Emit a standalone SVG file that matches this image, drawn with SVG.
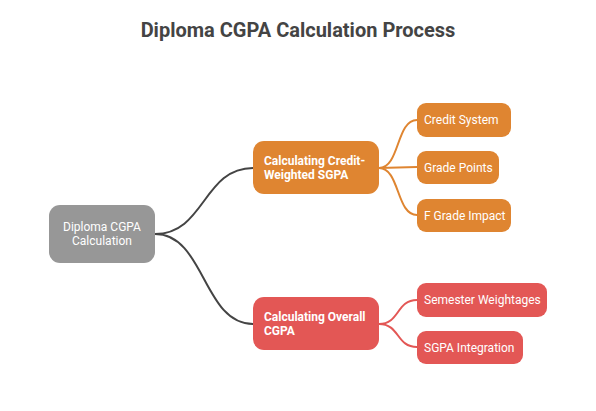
<svg xmlns="http://www.w3.org/2000/svg" width="596" height="411" viewBox="0 0 596 411">
<style>
text{font-family:Roboto,"Liberation Sans",sans-serif;fill:#fff;}
.t{font-size:20px;font-weight:bold;fill:#444;}
.r{font-size:12px;}
.m{font-size:12px;font-weight:bold;}
.c{font-size:12px;}
.or{fill:#DF8531;}
.rd{fill:#E35755;}
.gr{fill:#979797;}
.lk{fill:none;stroke-width:2;}
</style>
<rect width="596" height="411" fill="#fff"/>
<text class="t" x="298" y="37" text-anchor="middle">Diploma CGPA Calculation Process</text>
<g id="connectors">
<path class="lk" stroke="#444" d="M155,234 C205,234 203,168 253,168"/>
<path class="lk" stroke="#444" d="M155,234 C205,234 203,324 253,324"/>
<path class="lk" stroke="#DF8531" d="M379,168 C400,168 396,120 417,120"/>
<path class="lk" stroke="#DF8531" d="M379,168 L417,167"/>
<path class="lk" stroke="#DF8531" d="M379,168 C400,168 396,215 417,215"/>
<path class="lk" stroke="#E35755" d="M379,324 C400,324 396,300 417,300"/>
<path class="lk" stroke="#E35755" d="M379,324 C400,324 396,347 417,347"/>
</g>
<g id="root">
<rect class="gr" x="49" y="205" width="106" height="58" rx="11"/>
<text class="r" x="102" y="231" text-anchor="middle">Diploma CGPA</text>
<text class="r" x="102" y="245" text-anchor="middle">Calculation</text>
</g>
<g id="sgpa">
<rect class="or" x="253" y="141" width="126" height="53" rx="11"/>
<text class="m" x="264" y="165">Calculating Credit-</text>
<text class="m" x="264" y="179">Weighted SGPA</text>
</g>
<g id="cgpa">
<rect class="rd" x="253" y="297" width="126" height="53" rx="11"/>
<text class="m" x="264" y="321">Calculating Overall</text>
<text class="m" x="264" y="335">CGPA</text>
</g>
<g id="credit">
<rect class="or" x="417" y="103" width="94" height="34" rx="9"/>
<text class="c" x="424" y="124">Credit System</text>
</g>
<g id="grade">
<rect class="or" x="417" y="151" width="82" height="33" rx="9"/>
<text class="c" x="424" y="172">Grade Points</text>
</g>
<g id="fgrade">
<rect class="or" x="417" y="199" width="94" height="33" rx="9"/>
<text class="c" x="424" y="220">F Grade Impact</text>
</g>
<g id="semester">
<rect class="rd" x="417" y="283" width="130" height="34" rx="9"/>
<text class="c" x="424" y="304">Semester Weightages</text>
</g>
<g id="integration">
<rect class="rd" x="417" y="331" width="106" height="33" rx="9"/>
<text class="c" x="424" y="352">SGPA Integration</text>
</g>
</svg>
